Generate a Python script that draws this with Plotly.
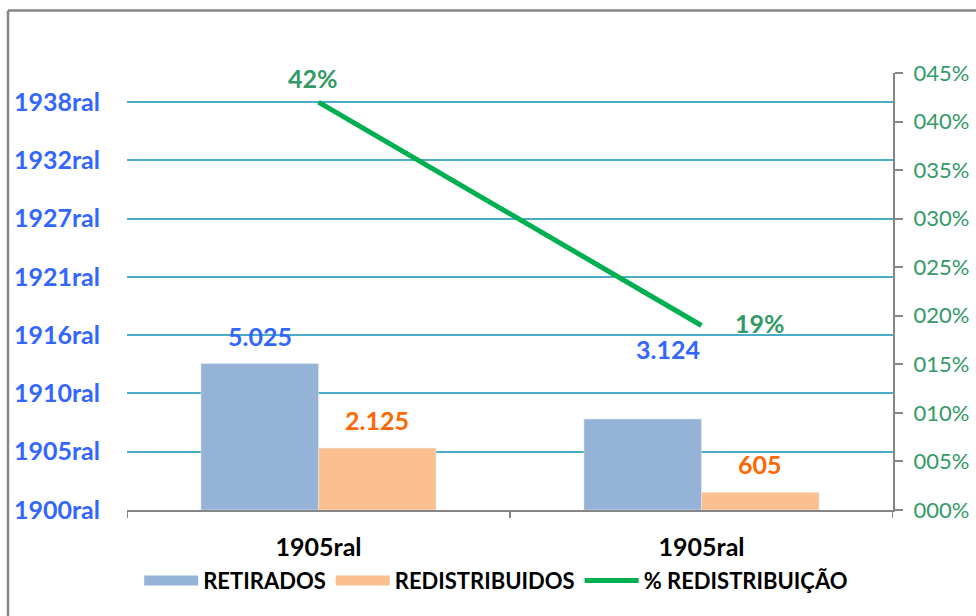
import plotly.graph_objects as go

# Dados do gráfico
periodos = ["1905ral", "1905ral"]
retirados = [5025, 3124]
redistribuidos = [2125, 605]
pct_redistribuicao = [0.42, 0.19]

rotulos_retirados = ["5.025", "3.124"]
rotulos_redistribuidos = ["2.125", "605"]
rotulos_pct = ["42%", "19%"]

eixo_esq_valores = [0, 2000, 4000, 6000, 8000, 10000, 12000, 14000]
eixo_esq_textos = ["1900ral", "1905ral", "1910ral", "1916ral",
                   "1921ral", "1927ral", "1932ral", "1938ral"]
eixo_dir_valores = [0, 0.05, 0.10, 0.15, 0.20, 0.25, 0.30, 0.35, 0.40, 0.45]
eixo_dir_textos = ["000%", "005%", "010%", "015%", "020%",
                   "025%", "030%", "035%", "040%", "045%"]

AZUL_BARRA = "#95B3D7"
LARANJA_BARRA = "#FAC090"
VERDE_LINHA = "#00B050"
AZUL_TEXTO = "#3366FF"
LARANJA_TEXTO = "#FF6600"
VERDE_TEXTO = "#339966"
CINZA = "#868686"
GRADE = "#4BACC6"
FONTE = "Lato"

BARGAP = 0.386
posicoes = list(range(len(periodos)))
desloc = (1 - BARGAP) / 4  # centro de cada barra dentro do grupo

fig = go.Figure()

fig.add_trace(go.Bar(x=posicoes, y=retirados, name="RETIRADOS",
                     marker=dict(color=AZUL_BARRA), showlegend=False))
fig.add_trace(go.Bar(x=posicoes, y=redistribuidos, name="REDISTRIBUIDOS",
                     marker=dict(color=LARANJA_BARRA), showlegend=False))
fig.add_trace(go.Scatter(x=posicoes, y=pct_redistribuicao, yaxis="y2",
                         mode="lines", name="% REDISTRIBUIÇÃO",
                         line=dict(color=VERDE_LINHA, width=5),
                         showlegend=False))

# Entradas da legenda com amostras largas
for nome, cor, larg in [("RETIRADOS", AZUL_BARRA, 13),
                        ("REDISTRIBUIDOS", LARANJA_BARRA, 13),
                        ("% REDISTRIBUIÇÃO", VERDE_LINHA, 5)]:
    fig.add_trace(go.Scatter(x=[None], y=[None], mode="lines", name=nome,
                             line=dict(color=cor, width=larg)))

anot = []
desl_ret = [(0, 28), (25, 70)]
for i, (v, t) in enumerate(zip(retirados, rotulos_retirados)):
    anot.append(dict(x=posicoes[i] - desloc, y=v, xref="x", yref="y", text=t,
                     showarrow=False, xshift=desl_ret[i][0], yshift=desl_ret[i][1],
                     font=dict(family=FONTE, size=25, color=AZUL_TEXTO, weight="bold")))
for i, (v, t) in enumerate(zip(redistribuidos, rotulos_redistribuidos)):
    anot.append(dict(x=posicoes[i] + desloc, y=v, xref="x", yref="y", text=t,
                     showarrow=False, yshift=28,
                     font=dict(family=FONTE, size=25, color=LARANJA_TEXTO, weight="bold")))
desl_pct = [(-6, 24), (58, 2)]
for i, (v, t) in enumerate(zip(pct_redistribuicao, rotulos_pct)):
    anot.append(dict(x=posicoes[i], y=v, xref="x", yref="y2", text=t,
                     showarrow=False, xshift=desl_pct[i][0], yshift=desl_pct[i][1],
                     font=dict(family=FONTE, size=25, color=VERDE_TEXTO, weight="bold")))

fig.update_layout(
    width=976, height=616,
    margin=dict(l=127, r=83, t=73, b=106, autoexpand=False),
    paper_bgcolor="white", plot_bgcolor="white",
    barmode="group", bargap=BARGAP, bargroupgap=0,
    font=dict(family=FONTE),
    xaxis=dict(type="linear", range=[-0.5, 1.5],
               tickvals=posicoes, ticktext=periodos, automargin=False,
               ticks="", showline=True, linecolor=CINZA, linewidth=2,
               showgrid=False, zeroline=False, ticklabelstandoff=14,
               tickfont=dict(family=FONTE, size=25, color="black", weight="bold")),
    yaxis=dict(range=[0, 15000], tickvals=eixo_esq_valores, ticktext=eixo_esq_textos,
               showgrid=True, gridcolor=GRADE, gridwidth=1.5, automargin=False,
               showline=False, zeroline=False, ticks="", ticklabelstandoff=26,
               tickfont=dict(family=FONTE, size=25, color=AZUL_TEXTO, weight="bold")),
    yaxis2=dict(overlaying="y", side="right", range=[0, 0.45],
                tickvals=eixo_dir_valores, ticktext=eixo_dir_textos,
                showgrid=False, zeroline=False, showline=True, automargin=False,
                linecolor=CINZA, linewidth=2,
                ticks="outside", ticklen=8, tickwidth=2, tickcolor=CINZA,
                ticklabelstandoff=6,
                tickfont=dict(family=FONTE, size=22, color=VERDE_TEXTO)),
    legend=dict(orientation="h", x=0.482, xanchor="center", y=-0.162, yanchor="middle",
                itemwidth=54, tracegroupgap=0, bgcolor="rgba(0,0,0,0)",
                font=dict(family=FONTE, size=22, color="black", weight="bold")),
    annotations=anot,
    shapes=[
        # moldura externa do gráfico
        dict(type="line", xref="paper", yref="paper",
             x0=(8 - 127) / 766, x1=1.2, y0=(510 - 10.5) / 437, y1=(510 - 10.5) / 437,
             line=dict(color=CINZA, width=2.5)),
        dict(type="line", xref="paper", yref="paper",
             x0=(8 - 127) / 766, x1=(8 - 127) / 766, y0=-0.5, y1=(510 - 10.5) / 437,
             line=dict(color=CINZA, width=2.5)),
        # marcas do eixo X nos limites das categorias
        *[dict(type="line", xref="x", yref="paper", x0=b, x1=b, y0=0, y1=-8 / 437,
               line=dict(color=CINZA, width=2)) for b in [-0.5, 0.5, 1.5]],
    ],
)

fig.write_html("out.html")
